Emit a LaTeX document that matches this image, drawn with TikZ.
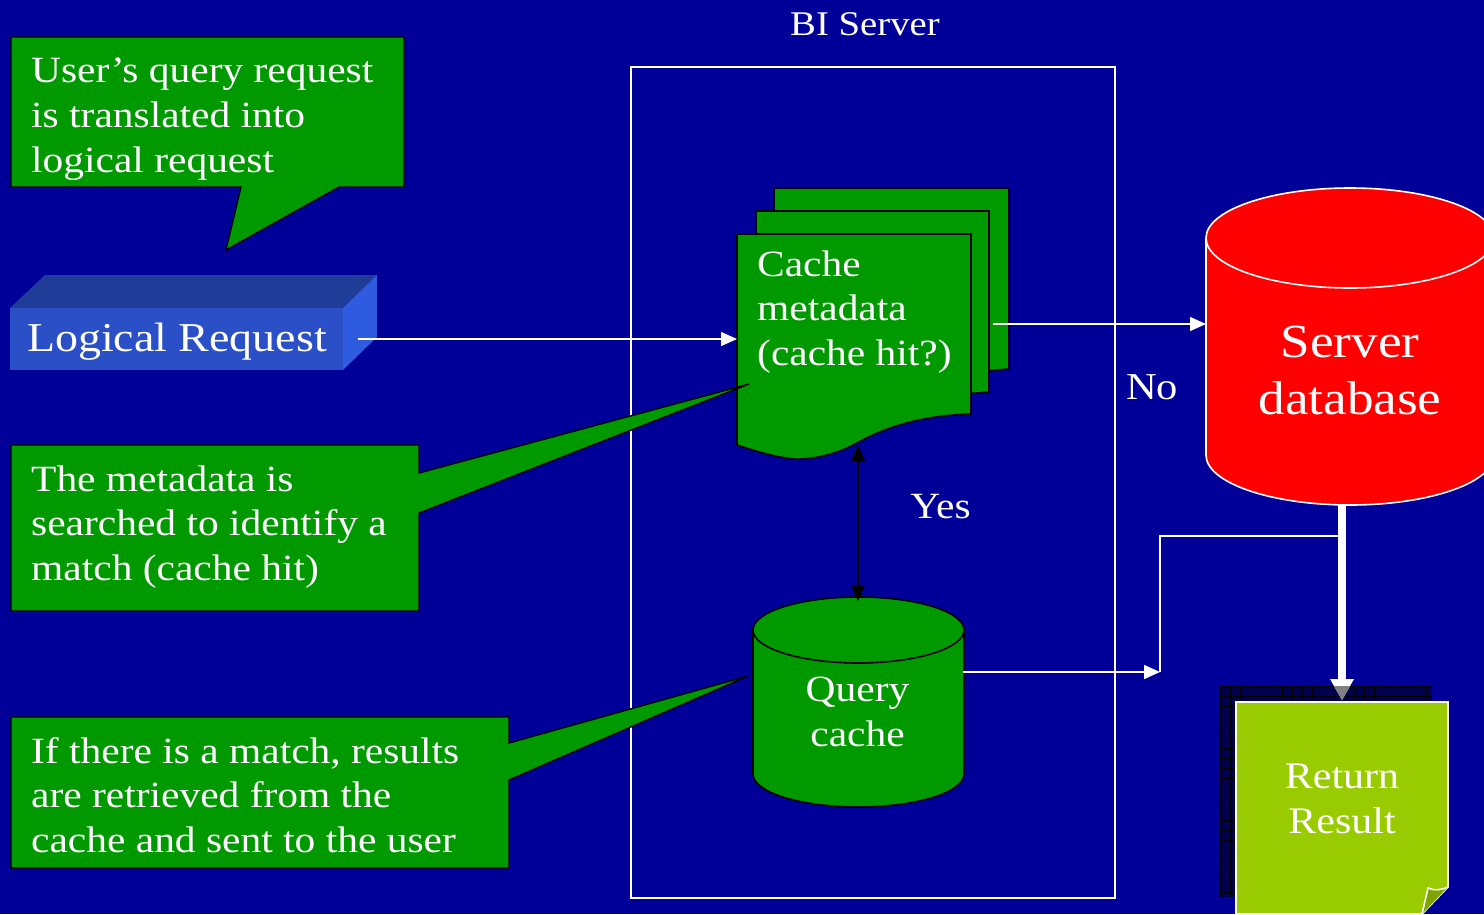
\documentclass[tikz,border=0pt]{standalone}
\usepackage{fontspec}
\setmainfont[FakeStretch=1.12]{Liberation Serif}
\usetikzlibrary{arrows.meta}
\definecolor{bgblue}{HTML}{000099}
\definecolor{boxgreen}{HTML}{009900}
\definecolor{lime}{HTML}{99CC00}
\definecolor{limedark}{HTML}{7FA300}
\definecolor{shadowblue}{HTML}{00004F}
\definecolor{frontblue}{HTML}{2B4FC7}
\definecolor{topblue}{HTML}{1F3C99}
\definecolor{sideblue}{HTML}{2F5BE0}
\tikzset{
  x=1pt,y=-1pt,
  shapeline/.style={draw=black,line width=1.6pt,fill=boxgreen,line join=miter},
  label/.style={text=white,inner sep=0pt,align=left,font=\fontsize{37}{44.8}\selectfont},
  ctr/.style={text=white,inner sep=0pt,align=center,font=\fontsize{38}{44.8}\selectfont},
  wire/.style={draw=white,line width=1.5pt,-{Triangle[width=14pt,length=16pt]}},
  plainwire/.style={draw=white,line width=1.5pt},
  dblarrow/.style={draw=black,line width=1.2pt,{Triangle[width=14pt,length=16pt]}-{Triangle[width=14pt,length=16pt]}},
}
\begin{document}
\begin{tikzpicture}
\useasboundingbox (0,0) rectangle (1484,914);
\clip (0,0) rectangle (1484,914);
\fill[bgblue] (0,0) rectangle (1484,914);

% BI server frame
\node[draw=white,line width=1.5pt,minimum width=484pt,minimum height=831pt,inner sep=0pt,anchor=north west] (frame) at (630,66) {};
\node[text=white,inner sep=0pt,font=\fontsize{34.6}{40}\selectfont] (bi) at (865,24.5) {BI Server};

% Logical request block
\fill[topblue] (10,308) -- (45,275) -- (377,275) -- (343,308) -- cycle;
\fill[sideblue] (343,308) -- (377,275) -- (377,337) -- (343,370) -- cycle;
\fill[frontblue] (10,308) rectangle (343,370);
\node[text=white,inner sep=0pt,font=\fontsize{41}{48}\selectfont] (lr) at (177,342) {Logical Request};
\coordinate (lrout) at (358,339);

% Cache metadata stack
\draw[shapeline] (774,188) -- (1009,188) -- (1009,369) -- (985,371) -- (985,380) -- (774,380) -- cycle;
\draw[shapeline] (756,211) -- (989,211) -- (989,392) -- (965,394) -- (965,400) -- (756,400) -- cycle;
\draw[shapeline] (737,234) -- (971,234) -- (971,414)
  .. controls (905,416) and (870,436) .. (855,444)
  .. controls (835,455) and (810,460) .. (793,459)
  .. controls (775,457) and (755,451) .. (737,445) -- cycle;
\node[label,anchor=west] (cm) at (757,312) {Cache\\metadata\\(cache hit?)};
\coordinate (cmin) at (737,339);
\coordinate (cmbottom) at (858,445);
\coordinate (cmout) at (993,324);

% Server database
\draw[draw=white,line width=1.6pt,fill=red] (1206,238) -- (1206,455)
  arc[start angle=180,end angle=360,x radius=144,y radius=-50] -- (1494,238)
  arc[start angle=0,end angle=180,x radius=144,y radius=-50] -- cycle;
\draw[draw=white,line width=1.6pt] (1206,238) arc[start angle=180,end angle=360,x radius=144,y radius=-50];
\node[ctr,font=\fontsize{47.5}{57}\selectfont] (sd) at (1350,370) {Server\\database};
\coordinate (sdin) at (1206,324);
\coordinate (sdout) at (1342,505);
\coordinate (sdtap) at (1342,536);

% Query cache
\draw[shapeline] (753,630) -- (753,774)
  arc[start angle=180,end angle=360,x radius=105.5,y radius=-33] -- (964,630)
  arc[start angle=0,end angle=180,x radius=105.5,y radius=-33] -- cycle;
\draw[shapeline,fill=none] (753,630) arc[start angle=180,end angle=360,x radius=105.5,y radius=-33];
\node[ctr,font=\fontsize{37}{44.8}\selectfont] (qc) at (857.5,712) {Query\\cache};
\coordinate (qctop) at (858,601);
\coordinate (qcout) at (963,672);

% callouts
\draw[shapeline,line width=1.4pt] (11,37) -- (404,37) -- (404,187) -- (339,187) -- (226,250) -- (241,187) -- (11,187) -- cycle;
\node[label,anchor=west] (c1) at (31,119) {User’s query request\\is translated into\\logical request};

\draw[shapeline,line width=1.4pt] (11,445) -- (419,445) -- (419,473) -- (749,384) -- (419,513) -- (419,611) -- (11,611) -- cycle;
\node[label,anchor=west] (c2) at (31,527) {The metadata is\\searched to identify a\\match (cache hit)};

\draw[shapeline,line width=1.4pt] (11,717) -- (509,717) -- (509,743) -- (748,676) -- (509,780) -- (509,868) -- (11,868) -- cycle;
\node[label,anchor=west] (c3) at (31,795) {If there is a match, results\\are retrieved from the\\cache and sent to the user};

% Labels on flows
\node[text=white,inner sep=0pt,font=\fontsize{38}{44}\selectfont] (no) at (1152,387) {No};
\node[text=white,inner sep=0pt,font=\fontsize{37}{44}\selectfont] (yes) at (940.5,507) {Yes};

% Return result
\fill[shadowblue] (1220,686) rectangle (1432,897);
\begin{scope}
\clip (1220,686) rectangle (1432,897);
\draw[black,line width=.5pt] \foreach \g in {0,...,20} {(1220+\g*10.3,686) -- (1220+\g*10.3,897) (1220,686+\g*10.3) -- (1432,686+\g*10.3)};
\end{scope}
\coordinate (rrtop) at (1342,702);
\coordinate (rrjoin) at (1160,672);

\draw[wire] (lrout) -- (cmin);
\draw[wire] (cmout) -- (sdin);
\draw[wire] (qcout) -- (rrjoin);
\draw[plainwire] (sdtap) -- (1160,536) -- (rrjoin);
\draw[dblarrow] (cmbottom) -- (qctop);
\draw[white,line width=7.5pt] (sdout) -- (1342,682);
\fill[white] (1330,679) -- (1354,679) -- (1342,700) -- cycle;
\fill[gray] (1334,686) -- (1350,686) -- (1342,700) -- cycle;

\draw[draw=white,line width=1.6pt,fill=lime] (1236,702) -- (1448,702) -- (1448,887) -- (1422,914) -- (1236,914) -- cycle;
\fill[limedark] (1428,888) .. controls (1434,891) and (1442,890) .. (1448,887) -- (1422,914) -- cycle;
\draw[white,line width=1.6pt] (1422,914) -- (1428,888) .. controls (1434,891) and (1442,890) .. (1448,887);
\node[ctr,font=\fontsize{37.5}{44.8}\selectfont] (rr) at (1342,799) {Return\\Result};
\end{tikzpicture}
\end{document}
